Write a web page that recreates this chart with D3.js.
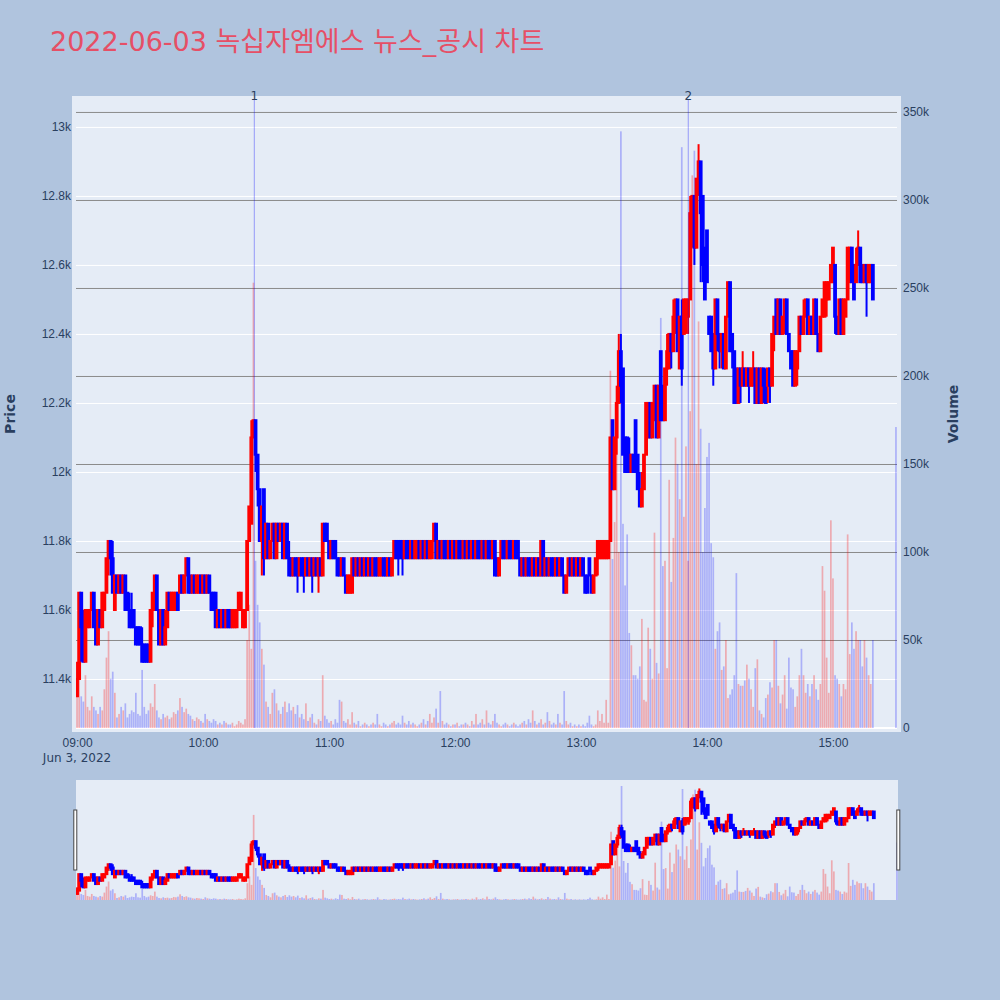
<!DOCTYPE html>
<html>
<head>
<meta charset="utf-8">
<script src="https://cdn.jsdelivr.net/npm/d3@7/dist/d3.min.js"></script>
<style>
  body { margin: 0; background: #b0c4de; }
  svg { display: block; font-family: "DejaVu Sans", "Noto Sans CJK KR", sans-serif; }
</style>
</head>
<body>
<svg id="chart" width="1000" height="1000"></svg>
<script>
// 1-minute bars from 09:00 to 15:19, the last entry is the 15:30 closing auction
const sessionStart = new Date(2022, 5, 3, 9, 0);
const closingAuction = new Date(2022, 5, 3, 15, 30);

const opens = [
  11350,11400,11650,11550,11450,11550,11550,11600,11650,11600,
  11500,11600,11550,11600,11650,11750,11800,11750,11600,11700,
  11650,11700,11650,11700,11650,11600,11600,11600,11550,11550,
  11550,11500,11500,11500,11500,11450,11600,11600,11700,11600,
  11500,11600,11500,11550,11650,11600,11600,11600,11650,11650,
  11700,11650,11700,11750,11700,11650,11700,11650,11650,11700,
  11650,11700,11650,11700,11650,11650,11650,11550,11600,11550,
  11600,11550,11600,11600,11550,11550,11550,11600,11600,11550,
  11550,11600,11800,11850,12100,12150,12050,11950,11800,11950,
  11750,11850,11750,11800,11850,11750,11850,11800,11850,11750,
  11850,11750,11750,11700,11750,11750,11700,11750,11750,11700,
  11750,11700,11750,11700,11750,11700,11750,11700,11850,11850,
  11800,11750,11800,11800,11750,11750,11700,11750,11700,11650,
  11650,11650,11750,11700,11750,11700,11750,11700,11750,11700,
  11750,11700,11750,11750,11700,11700,11750,11750,11700,11750,
  11700,11750,11800,11800,11800,11800,11750,11800,11800,11750,
  11800,11750,11750,11800,11750,11800,11750,11800,11750,11750,
  11800,11850,11750,11800,11750,11800,11800,11750,11800,11750,
  11800,11750,11800,11800,11750,11800,11750,11800,11750,11800,
  11750,11800,11800,11750,11800,11750,11800,11800,11750,11800,
  11750,11700,11750,11800,11800,11750,11800,11800,11750,11800,
  11800,11750,11700,11750,11700,11750,11750,11700,11750,11700,
  11750,11700,11800,11700,11750,11700,11750,11750,11700,11750,
  11700,11750,11700,11650,11700,11750,11700,11750,11700,11750,
  11700,11750,11700,11700,11750,11700,11650,11700,11750,11750,
  11750,11750,11750,11750,11800,12150,11950,12100,12200,12350,
  12300,12100,12100,12050,12000,12050,12150,12050,11950,11900,
  11950,12050,12100,12200,12100,12150,12250,12100,12350,12250,
  12150,12300,12300,12400,12350,12450,12500,12300,12450,12400,
  12450,12450,12500,12750,12800,12650,12850,12900,12800,12650,
  12700,12450,12450,12400,12300,12500,12400,12350,12400,12300,
  12450,12550,12400,12350,12300,12200,12300,12250,12300,12250,
  12300,12250,12250,12300,12200,12300,12200,12300,12250,12250,
  12300,12250,12400,12500,12400,12500,12400,12450,12500,12400,
  12350,12350,12250,12300,12350,12450,12400,12450,12500,12400,
  12450,12400,12500,12400,12350,12450,12450,12500,12500,12550,
  12550,12600,12450,12400,12500,12400,12450,12500,12550,12650,
  12600,12550,12600,12650,12600,12550,12600,12550,12550,12600,
  12500
];
const highs = [
  11450,11650,11650,11600,11600,11600,11600,11650,11650,11600,
  11600,11600,11650,11650,11750,11800,11800,11800,11700,11700,
  11700,11700,11700,11700,11650,11650,11650,11600,11550,11550,
  11550,11550,11500,11500,11500,11600,11650,11700,11700,11600,
  11600,11600,11600,11650,11650,11650,11650,11650,11650,11700,
  11700,11700,11750,11750,11700,11700,11700,11700,11700,11700,
  11700,11700,11700,11700,11650,11650,11650,11600,11600,11600,
  11600,11600,11600,11600,11600,11600,11600,11650,11650,11600,
  11600,11800,11900,12150,12150,12150,12050,11950,11900,11950,
  11850,11850,11800,11850,11850,11850,11850,11850,11850,11850,
  11850,11800,11750,11750,11750,11750,11750,11750,11750,11750,
  11750,11750,11750,11750,11750,11750,11750,11850,11850,11850,
  11800,11800,11800,11800,11750,11750,11750,11750,11700,11700,
  11700,11750,11750,11750,11750,11750,11750,11750,11750,11750,
  11750,11750,11750,11750,11750,11750,11750,11750,11750,11750,
  11750,11800,11800,11800,11800,11800,11800,11800,11800,11800,
  11800,11800,11800,11800,11800,11800,11800,11800,11800,11800,
  11850,11850,11800,11800,11800,11800,11800,11800,11800,11800,
  11800,11800,11800,11800,11800,11800,11800,11800,11800,11800,
  11800,11800,11800,11800,11800,11800,11800,11800,11800,11800,
  11750,11750,11800,11800,11800,11800,11800,11800,11800,11800,
  11800,11750,11750,11750,11750,11750,11750,11750,11750,11750,
  11750,11800,11800,11750,11750,11750,11750,11750,11750,11750,
  11750,11750,11700,11700,11750,11750,11750,11750,11750,11750,
  11750,11750,11700,11700,11750,11700,11700,11750,11800,11800,
  11800,11800,11800,11800,12100,12150,12100,12250,12400,12400,
  12300,12100,12100,12100,12050,12050,12150,12050,12000,12000,
  12050,12200,12200,12200,12200,12250,12250,12250,12350,12250,
  12300,12400,12400,12400,12500,12500,12500,12450,12500,12500,
  12500,12500,12800,12800,12800,12850,12950,12900,12800,12650,
  12700,12450,12450,12400,12500,12500,12400,12400,12400,12450,
  12550,12550,12400,12350,12300,12300,12300,12350,12300,12300,
  12300,12300,12350,12300,12300,12300,12300,12300,12300,12300,
  12300,12400,12450,12500,12500,12500,12450,12500,12500,12400,
  12350,12350,12350,12350,12450,12450,12500,12500,12500,12450,
  12450,12500,12500,12400,12450,12500,12550,12550,12550,12600,
  12650,12600,12450,12500,12500,12500,12500,12650,12650,12650,
  12600,12650,12700,12650,12600,12600,12600,12600,12600,12600,
  12500
];
const lows = [
  11350,11400,11450,11450,11450,11550,11550,11600,11550,11500,
  11500,11550,11550,11600,11650,11700,11700,11650,11600,11650,
  11650,11650,11650,11600,11600,11550,11550,11550,11500,11500,
  11500,11450,11450,11450,11450,11450,11550,11600,11600,11500,
  11500,11500,11500,11550,11600,11600,11600,11600,11600,11650,
  11650,11650,11700,11650,11650,11650,11650,11650,11650,11650,
  11650,11650,11650,11650,11600,11600,11550,11550,11550,11550,
  11550,11550,11550,11550,11550,11550,11550,11600,11600,11550,
  11550,11600,11800,11850,12100,12000,11900,11800,11700,11700,
  11750,11750,11750,11800,11750,11750,11800,11800,11750,11750,
  11750,11700,11700,11700,11700,11650,11700,11700,11650,11700,
  11700,11700,11650,11700,11700,11650,11700,11700,11800,11800,
  11750,11750,11750,11750,11700,11700,11700,11700,11650,11650,
  11650,11650,11700,11700,11700,11700,11700,11700,11700,11700,
  11700,11700,11700,11700,11700,11700,11700,11700,11700,11700,
  11700,11750,11750,11700,11750,11700,11750,11750,11750,11750,
  11750,11750,11750,11750,11750,11750,11750,11750,11750,11750,
  11800,11750,11750,11750,11750,11750,11750,11750,11750,11750,
  11750,11750,11750,11750,11750,11750,11750,11750,11750,11750,
  11750,11750,11750,11750,11750,11750,11750,11750,11750,11700,
  11700,11700,11750,11750,11750,11750,11750,11750,11750,11750,
  11750,11700,11700,11700,11700,11700,11700,11700,11700,11700,
  11700,11700,11700,11700,11700,11700,11700,11700,11700,11700,
  11700,11700,11650,11650,11700,11700,11700,11700,11700,11700,
  11700,11700,11650,11650,11700,11650,11650,11700,11700,11750,
  11750,11750,11750,11750,11800,11950,11950,12050,12200,12200,
  12050,12000,12000,12000,12000,12000,12000,11950,11900,11900,
  11950,12050,12100,12100,12100,12150,12100,12100,12150,12150,
  12150,12250,12300,12300,12350,12400,12350,12300,12250,12400,
  12400,12400,12500,12650,12600,12650,12800,12550,12550,12500,
  12550,12400,12350,12250,12300,12350,12300,12300,12300,12300,
  12450,12350,12300,12200,12200,12200,12200,12250,12250,12250,
  12200,12250,12250,12200,12200,12200,12200,12200,12200,12200,
  12200,12250,12350,12400,12400,12400,12400,12400,12400,12350,
  12300,12250,12250,12250,12350,12400,12400,12450,12400,12400,
  12400,12400,12400,12350,12350,12450,12450,12450,12500,12550,
  12550,12400,12400,12400,12400,12400,12450,12500,12550,12550,
  12500,12550,12600,12550,12550,12550,12450,12550,12550,12500,
  12500
];
const closes = [
  11400,11650,11550,11450,11600,11600,11600,11650,11550,11500,
  11600,11550,11650,11650,11750,11800,11750,11650,11700,11650,
  11700,11650,11700,11600,11600,11550,11550,11550,11500,11500,
  11500,11450,11450,11450,11450,11600,11650,11700,11600,11500,
  11600,11500,11550,11650,11600,11650,11650,11650,11600,11700,
  11650,11700,11750,11650,11650,11700,11650,11700,11700,11650,
  11700,11650,11700,11650,11600,11600,11550,11600,11550,11600,
  11550,11600,11550,11550,11600,11600,11600,11650,11650,11600,
  11600,11800,11900,12100,12150,12050,11950,11800,11900,11750,
  11850,11750,11800,11850,11750,11850,11800,11850,11750,11850,
  11750,11700,11700,11750,11700,11700,11750,11700,11700,11750,
  11700,11750,11700,11750,11700,11750,11700,11850,11800,11800,
  11750,11800,11750,11750,11700,11700,11750,11700,11650,11700,
  11700,11750,11700,11750,11700,11750,11700,11750,11700,11750,
  11700,11750,11700,11700,11750,11750,11700,11700,11750,11700,
  11750,11800,11750,11750,11750,11750,11800,11750,11750,11800,
  11750,11800,11800,11750,11800,11750,11800,11750,11800,11800,
  11850,11750,11800,11750,11800,11750,11750,11800,11750,11800,
  11750,11800,11750,11750,11800,11750,11800,11750,11800,11750,
  11800,11750,11750,11800,11750,11800,11750,11750,11800,11700,
  11700,11750,11800,11750,11750,11800,11750,11750,11800,11750,
  11750,11700,11750,11700,11750,11700,11700,11750,11700,11750,
  11700,11800,11700,11750,11700,11750,11700,11700,11750,11700,
  11750,11700,11650,11700,11750,11700,11750,11700,11750,11700,
  11750,11700,11650,11650,11700,11650,11700,11750,11800,11800,
  11800,11800,11800,11800,12100,11950,12100,12200,12350,12250,
  12050,12000,12000,12000,12050,12000,12000,11950,11900,11950,
  12050,12200,12200,12100,12200,12250,12100,12250,12150,12150,
  12300,12350,12400,12350,12450,12500,12350,12450,12300,12500,
  12500,12500,12750,12800,12650,12850,12900,12750,12600,12500,
  12550,12400,12350,12300,12500,12400,12350,12400,12300,12450,
  12550,12350,12350,12200,12200,12300,12250,12300,12250,12300,
  12250,12300,12300,12200,12300,12200,12300,12250,12200,12300,
  12250,12400,12450,12400,12500,12400,12450,12500,12400,12350,
  12300,12250,12350,12350,12450,12400,12450,12500,12400,12450,
  12400,12500,12400,12350,12450,12500,12550,12550,12550,12600,
  12650,12450,12400,12500,12400,12500,12500,12650,12650,12550,
  12500,12600,12650,12550,12550,12600,12550,12600,12600,12500,
  12500
];
const volumes = [
  25000,41000,18000,15000,30000,12000,10000,18000,12000,10000,
  8000,12000,10000,22000,40000,55000,28000,32000,20000,6000,
  8000,12000,10000,14000,6000,8000,10000,9000,20000,8000,
  7000,33000,12000,8000,10000,14000,12000,25000,10000,6000,
  5000,8000,6000,7000,5000,6000,9000,8000,10000,17000,
  12000,9000,11000,8000,7000,5000,4000,6000,5000,4000,
  3000,8000,5000,4000,3000,5000,4000,2000,3000,2000,
  4000,3000,2000,2000,3000,1000,2000,4000,3000,2000,
  5000,50000,70000,45000,253000,95000,70000,60000,45000,36000,
  15000,12000,8000,20000,22000,14000,10000,8000,12000,15000,
  9000,14000,10000,12000,8000,13000,6000,8000,5000,14000,
  4000,6000,8000,3000,2000,5000,4000,30000,7000,5000,
  3000,4000,2000,5000,3000,16000,15000,4000,3000,5000,
  2000,9000,3000,2000,4000,1000,2000,3000,2000,1000,
  2000,3000,2000,8000,2000,1000,3000,2000,1000,2000,
  3000,4000,2000,3000,2000,7000,3000,2000,4000,2000,
  3000,2000,1000,2000,3000,5000,2000,4000,8000,3000,
  6000,11000,3000,21000,4000,2000,3000,2000,1000,2000,
  2000,3000,1000,2000,2000,3000,2000,1000,4000,2000,
  8000,2000,3000,5000,2000,10000,3000,2000,4000,8000,
  3000,2000,1000,2000,3000,2000,1000,2000,3000,2000,
  1000,2000,3000,4000,2000,5000,3000,10000,4000,2000,
  3000,5000,2000,3000,9000,4000,2000,3000,2000,8000,
  3000,2000,21000,4000,2000,3000,1000,2000,1000,2000,
  1000,2000,1000,3000,7000,2000,1000,2000,10000,4000,
  8000,3000,16000,3000,203000,96000,117000,175000,100000,339000,
  116000,81000,110000,54000,47000,30000,30000,28000,35000,62000,
  16000,15000,57000,45000,28000,111000,37000,31000,233000,92000,
  95000,34000,141000,83000,108000,165000,150000,130000,330000,120000,
  160000,95000,180000,314000,328000,150000,231000,170000,100000,125000,
  154000,162000,105000,97000,45000,55000,60000,33000,35000,50000,
  17000,19000,22000,30000,88000,25000,24000,24000,27000,36000,
  28000,22000,12000,34000,39000,10000,8000,6000,17000,19000,
  26000,23000,50000,50000,24000,14000,19000,30000,11000,40000,
  23000,22000,12000,18000,30000,45000,30000,20000,25000,18000,
  25000,30000,22000,16000,25000,92000,78000,40000,20000,118000,
  85000,30000,28000,25000,18000,25000,22000,110000,42000,60000,
  45000,55000,50000,50000,35000,50000,40000,30000,25000,50000,
  171000
];

const priceTicks = [11400, 11600, 11800, 12000, 12200, 12400, 12600, 12800, 13000];
const priceTickLabels = ['11.4k', '11.6k', '11.8k', '12k', '12.2k', '12.4k', '12.6k', '12.8k', '13k'];
const volumeTicks = [0, 50000, 100000, 150000, 200000, 250000, 300000, 350000];
const volumeTickLabels = ['0', '50k', '100k', '150k', '200k', '250k', '300k', '350k'];
const timeTicks = ['09:00', '10:00', '11:00', '12:00', '13:00', '14:00', '15:00'];
const newsTimes = ['10:24:25', '13:51:05'];
const newsLabels = ['1', '2'];

const titleText = '2022-06-03 녹십자엠에스 뉴스_공시 차트';
const priceRange = [11258, 13078];
const volumeRange = [0, 356800];

const incColor = '#ff0000';
const decColor = '#0000ff';
const textColor = '#2a3f5f';
const plotBg = '#e5ecf6';

const atClock = s => {
  const [h, m, sec] = s.split(':').map(Number);
  return new Date(2022, 5, 3, h, m, sec || 0);
};
const times = opens.map((_, i) => i === opens.length - 1 ? closingAuction : d3.timeMinute.offset(sessionStart, i));

const main = { left: 76, right: 897, top: 100, bottom: 728 };
const slider = { left: 76, right: 898, top: 780, bottom: 900 };

const svg = d3.select('#chart');

const xDomain = [d3.timeSecond.offset(sessionStart, -30), d3.timeSecond.offset(closingAuction, 30)];
const x = d3.scaleTime().domain(xDomain).range([main.left, main.right]);
const yPrice = d3.scaleLinear().domain(priceRange).range([main.bottom, main.top]);
const yVol = d3.scaleLinear().domain(volumeRange).range([main.bottom, main.top]);

const xs = d3.scaleTime().domain(xDomain).range([slider.left, slider.right]);
const ysPrice = d3.scaleLinear().domain(priceRange).range([slider.bottom, slider.top]);
const ysVol = d3.scaleLinear().domain(volumeRange).range([slider.bottom, slider.top]);

const defs = svg.append('defs');
defs.append('clipPath').attr('id', 'clip-main').append('rect')
  .attr('x', main.left).attr('y', main.top)
  .attr('width', main.right - main.left).attr('height', main.bottom - main.top);
defs.append('clipPath').attr('id', 'clip-slider').append('rect')
  .attr('x', slider.left).attr('y', slider.top)
  .attr('width', slider.right - slider.left).attr('height', slider.bottom - slider.top);

// title
svg.append('text')
  .attr('x', 50).attr('y', 51)
  .style('font-size', '27px')
  .style('fill', '#e64f66')
  .text(titleText);

// plot background
svg.append('rect')
  .attr('x', main.left - 4).attr('y', main.top - 4)
  .attr('width', main.right - main.left + 8).attr('height', main.bottom - main.top + 8)
  .attr('fill', plotBg);

// price grid (white), then volume grid (gray)
const width = main.right - main.left;
const priceGrid = svg.append('g')
  .attr('transform', `translate(${main.left},0)`)
  .call(d3.axisLeft(yPrice).tickValues(priceTicks).tickSize(-width).tickFormat(''));
priceGrid.select('.domain').remove();
priceGrid.selectAll('.tick line').attr('stroke', '#ffffff').attr('stroke-width', 1);

const volGrid = svg.append('g')
  .attr('transform', `translate(${main.left},0)`)
  .call(d3.axisLeft(yVol).tickValues(volumeTicks.filter(v => v > 0)).tickSize(-width).tickFormat(''));
volGrid.select('.domain').remove();
volGrid.selectAll('.tick line').attr('stroke', '#8a8a8a').attr('stroke-width', 1);

svg.append('line')
  .attr('x1', main.left).attr('x2', main.right)
  .attr('y1', yVol(0)).attr('y2', yVol(0))
  .attr('stroke', '#ffffff').attr('stroke-width', 2);

function drawTraces(g, sx, sp, sv) {
  const idx = d3.range(times.length);
  const up = i => closes[i] > opens[i];

  const candle = g.append('g').selectAll('g').data(idx).join('g')
    .attr('stroke', i => up(i) ? incColor : decColor);
  candle.append('line')
    .attr('x1', i => sx(times[i])).attr('x2', i => sx(times[i]))
    .attr('y1', i => sp(highs[i])).attr('y2', i => sp(lows[i]))
    .attr('stroke-width', 2);
  candle.append('rect')
    .attr('x', i => sx(times[i]) - 0.9)
    .attr('width', 1.8)
    .attr('y', i => sp(Math.max(opens[i], closes[i])))
    .attr('height', i => Math.abs(sp(opens[i]) - sp(closes[i])))
    .attr('fill', i => up(i) ? 'rgba(255,0,0,0.5)' : 'rgba(0,0,255,0.5)')
    .attr('stroke-width', 2);

  // volume sits on the overlaid axis, drawn above the candles
  g.append('g').selectAll('rect').data(idx).join('rect')
    .attr('x', i => sx(times[i]) - 0.85)
    .attr('width', 1.7)
    .attr('y', i => sv(volumes[i]))
    .attr('height', i => sv(0) - sv(volumes[i]))
    .attr('fill', i => up(i) ? 'rgba(255,0,0,0.28)' : 'rgba(0,0,255,0.25)');
}

drawTraces(svg.append('g').attr('clip-path', 'url(#clip-main)'), x, yPrice, yVol);

// news markers
const news = svg.append('g');
newsTimes.forEach((t, i) => {
  const px = x(atClock(t));
  news.append('line')
    .attr('x1', px).attr('x2', px)
    .attr('y1', main.top).attr('y2', main.bottom)
    .attr('stroke', 'rgba(0,0,255,0.35)').attr('stroke-width', 1);
  news.append('text')
    .attr('x', px).attr('y', main.top)
    .attr('text-anchor', 'middle')
    .style('font-size', '12px')
    .style('fill', textColor)
    .text(newsLabels[i]);
});

// axes
const leftAxis = svg.append('g')
  .attr('transform', `translate(${main.left},0)`)
  .call(d3.axisLeft(yPrice).tickValues(priceTicks).tickFormat((d, i) => priceTickLabels[i]).tickSize(0).tickPadding(5));
leftAxis.select('.domain').remove();
leftAxis.selectAll('text').style('font-size', '12px').style('fill', textColor);

const rightAxis = svg.append('g')
  .attr('transform', `translate(${main.right},0)`)
  .call(d3.axisRight(yVol).tickValues(volumeTicks).tickFormat((d, i) => volumeTickLabels[i]).tickSize(0).tickPadding(6));
rightAxis.select('.domain').remove();
rightAxis.selectAll('text').style('font-size', '12px').style('fill', textColor);

const bottomAxis = svg.append('g')
  .attr('transform', `translate(0,${main.bottom})`)
  .call(d3.axisBottom(x).tickValues(timeTicks.map(atClock)).tickFormat(d3.timeFormat('%H:%M')).tickSize(0).tickPadding(10));
bottomAxis.select('.domain').remove();
bottomAxis.selectAll('text').style('font-size', '12px').style('fill', textColor);

svg.append('text')
  .attr('x', x(sessionStart)).attr('y', 762)
  .attr('text-anchor', 'middle')
  .style('font-size', '12px')
  .style('fill', textColor)
  .text(d3.timeFormat('%b %-d, %Y')(sessionStart));

svg.append('text')
  .attr('transform', `translate(15,${(main.top + main.bottom) / 2}) rotate(-90)`)
  .attr('text-anchor', 'middle')
  .style('font-size', '14px')
  .style('font-weight', 'bold')
  .style('fill', textColor)
  .text('Price');

svg.append('text')
  .attr('transform', `translate(958,${(main.top + main.bottom) / 2}) rotate(-90)`)
  .attr('text-anchor', 'middle')
  .style('font-size', '14px')
  .style('font-weight', 'bold')
  .style('fill', textColor)
  .text('Volume');

// range slider
svg.append('rect')
  .attr('x', slider.left).attr('y', slider.top)
  .attr('width', slider.right - slider.left).attr('height', slider.bottom - slider.top)
  .attr('fill', plotBg);
drawTraces(svg.append('g').attr('clip-path', 'url(#clip-slider)'), xs, ysPrice, ysVol);

const handleH = (slider.bottom - slider.top) / 2;
[slider.left - 2.2, slider.right - 1.2].forEach(hx => {
  svg.append('rect')
    .attr('x', hx).attr('y', slider.top + handleH / 2)
    .attr('width', 3).attr('height', handleH)
    .attr('fill', '#ffffff')
    .attr('stroke', '#444444').attr('stroke-width', 1);
});
</script>
</body>
</html>
